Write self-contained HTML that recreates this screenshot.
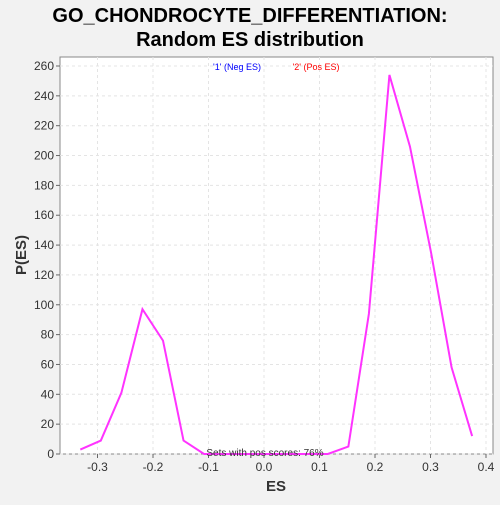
<!DOCTYPE html>
<html><head><meta charset="utf-8"><style>
body{margin:0;background:#f2f2f2;font-family:"Liberation Sans","DejaVu Sans",sans-serif}
</style></head><body>
<svg width="500" height="500" xmlns="http://www.w3.org/2000/svg">
<rect width="500" height="500" fill="#f2f2f2"/>
<text x="250" y="22" text-anchor="middle" font-size="20" font-weight="bold" fill="#000">GO_CHONDROCYTE_DIFFERENTIATION:</text>
<text x="250" y="46" text-anchor="middle" font-size="20" font-weight="bold" fill="#000">Random ES distribution</text>
<rect x="60" y="57" width="433" height="397" fill="#fff" stroke="#888"/>
<g id="grid"></g><g id="axes"></g>
<polyline id="line" fill="none" stroke="#ff33ff" stroke-width="2"/>
<text x="237" y="70" text-anchor="middle" font-size="9" fill="#0000ff">'1' (Neg ES)</text>
<text x="316" y="70" text-anchor="middle" font-size="9" fill="#ff0000">'2' (Pos ES)</text>
<text x="265" y="456" text-anchor="middle" font-size="10" fill="#333">Sets with pos scores: 76%</text>
<text x="276" y="491" text-anchor="middle" font-size="15" font-weight="bold" fill="#333">ES</text>
<text x="26" y="255" text-anchor="middle" font-size="15" font-weight="bold" fill="#333" transform="rotate(-90 26 255)">P(ES)</text>
</svg>
<script>
const esValues=[-0.331,-0.294,-0.257,-0.219,-0.182,-0.145,-0.108,-0.071,-0.034,0.003,0.041,0.078,0.115,0.152,0.189,0.226,0.263,0.301,0.338,0.375];
const pValues=[3,9,41,97,76,9,0,0,0,0,0,0,0,5,94,254,206,135,58,12];
const xTicks=[-0.3,-0.2,-0.1,0.0,0.1,0.2,0.3,0.4];
const yTicks=[0,20,40,60,80,100,120,140,160,180,200,220,240,260];
const NS="http://www.w3.org/2000/svg";
function xs(v){return 264+v*555;}
function ys(v){return 454-v*(388/260);}
const grid=document.getElementById('grid'),axes=document.getElementById('axes');
function mk(tag,attrs,parent){const e=document.createElementNS(NS,tag);for(const k in attrs)e.setAttribute(k,attrs[k]);parent.appendChild(e);return e;}
xTicks.forEach(t=>{const x=xs(t);
 const g=mk('line',{x1:x,x2:x,y1:57,y2:454,stroke:'#e4e4e4','stroke-dasharray':'3,3'},grid);
 
 
 mk('line',{x1:x,x2:x,y1:454,y2:458,stroke:'#666'},axes);
 const l=mk('text',{x:x,y:471,'text-anchor':'middle','font-size':12,fill:'#333'},axes);l.textContent=t.toFixed(1);
 
 });
yTicks.forEach(t=>{const y=ys(t);
 const g=mk('line',{x1:60,x2:493,y1:y,y2:y,stroke:'#e4e4e4','stroke-dasharray':'3,3'},grid);
 
 
 mk('line',{x1:56,x2:60,y1:y,y2:y,stroke:'#666'},axes);
 const l=mk('text',{x:54,y:y+4,'text-anchor':'end','font-size':12,fill:'#333'},axes);l.textContent=t;
 
 });
document.getElementById('line').setAttribute('points',esValues.map((v,i)=>xs(v)+','+ys(pValues[i])).join(' '));
</script>
</body></html>
